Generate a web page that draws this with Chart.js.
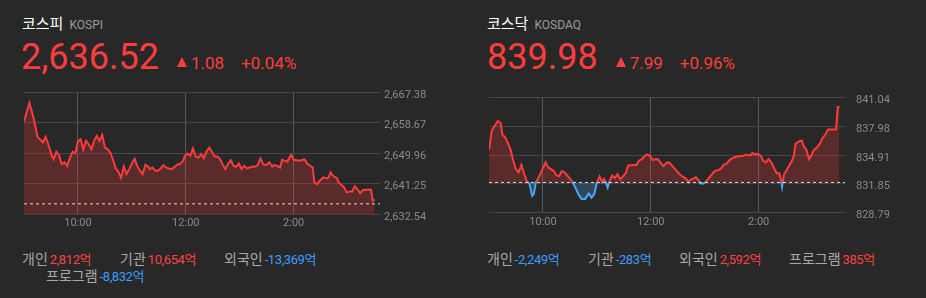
<!DOCTYPE html>
<html lang="ko">
<head>
<meta charset="utf-8">
<title>코스피 · 코스닥</title>
<script src="https://cdn.jsdelivr.net/npm/chart.js@4.4.1/dist/chart.umd.min.js"></script>
<style>
  html, body { margin: 0; padding: 0; }
  body {
    width: 926px; height: 298px; background: #282828;
    position: relative; overflow: hidden;
    font-family: Roboto, "Noto Sans CJK KR", sans-serif;
  }
  .title { position: absolute; top: 17px; display: flex; align-items: baseline; font-size: 15px; line-height: 15px; color: #fff; }
  .title small { font-size: 12px; color: #9a9a9a; margin-left: 6px; }
  .price { position: absolute; top: 39px; display: flex; align-items: baseline; color: #ff3d3d; }
  .price .now { font-size: 36px; line-height: 36px; }
  .price .chg { font-size: 17px; line-height: 17px; margin-left: 18px; }
  .price .pct { font-size: 17px; line-height: 17px; margin-left: 17px; }
  .tri {
    display: inline-block; width: 0; height: 0;
    border-left: 5.5px solid transparent; border-right: 5.5px solid transparent;
    border-bottom: 10px solid #ff3d3d; margin-right: 4px; position: relative; top: -2px;
  }
  .chart-box { position: absolute; top: 80px; width: 463px; height: 150px; }
  .stat { position: absolute; font-size: 14px; line-height: 16px; white-space: nowrap; }
  .stat .lbl { color: #a8a8a8; }
  .stat .val { margin-left: 2px; font-size: 13px; letter-spacing: -0.4px; }
  .up { color: #ff4040; }
  .down { color: #3d9cff; }
</style>
</head>
<body>

<div class="title" style="left:22px"><span>코스피</span><small>KOSPI</small></div>
<div class="price" style="left:21px">
  <span class="now">2,636.52</span>
  <span class="chg"><i class="tri"></i>1.08</span>
  <span class="pct">+0.04%</span>
</div>
<div class="chart-box" style="left:0"><canvas id="kospiChart"></canvas></div>
<div class="stat" style="left:22px;top:251px"><span class="lbl">개인</span><span class="val up">2,812억</span></div>
<div class="stat" style="left:120px;top:251px"><span class="lbl">기관</span><span class="val up">10,654억</span></div>
<div class="stat" style="left:224px;top:251px"><span class="lbl">외국인</span><span class="val down">-13,369억</span></div>
<div class="stat" style="left:46px;top:268px"><span class="lbl">프로그램</span><span class="val down">-8,832억</span></div>

<div class="title" style="left:487px"><span>코스닥</span><small>KOSDAQ</small></div>
<div class="price" style="left:487px">
  <span class="now">839.98</span>
  <span class="chg"><i class="tri"></i>7.99</span>
  <span class="pct">+0.96%</span>
</div>
<div class="chart-box" style="left:463px"><canvas id="kosdaqChart"></canvas></div>
<div class="stat" style="left:487px;top:251px"><span class="lbl">개인</span><span class="val down">-2,249억</span></div>
<div class="stat" style="left:588px;top:251px"><span class="lbl">기관</span><span class="val down">-283억</span></div>
<div class="stat" style="left:679px;top:251px"><span class="lbl">외국인</span><span class="val up">2,592억</span></div>
<div class="stat" style="left:789px;top:251px"><span class="lbl">프로그램</span><span class="val up">385억</span></div>

<script>
// minutes since 9:00, index values
const kospiMinutes = [0, 6, 11, 15, 21, 24, 27, 31, 33, 36, 39, 42, 45, 48, 51, 54, 57, 60, 63, 66, 69, 72, 75, 78, 81, 84, 87, 90, 93, 96,
  100, 102, 105, 108, 111, 114, 117, 120, 123, 126, 129, 132, 135, 138, 140, 143, 146, 149, 152, 155, 158, 161, 164, 167, 170, 174, 177, 179,
  182, 185, 188, 191, 194, 197, 200, 203, 206, 209, 212, 215, 218, 221, 224, 227, 230, 233, 236, 239, 242, 245, 248, 251, 254, 257, 260, 263,
  266, 269, 273, 276, 278, 281, 285, 287, 290, 293, 297, 300, 303, 307, 312, 315, 318, 321, 323, 326, 329, 333, 337, 339, 341, 344, 348, 350,
  353, 356, 359, 363, 365, 368, 372, 374, 377, 381, 386, 388, 390];
const kospiValues = [2658.93, 2664.24, 2659.59, 2654.56, 2652.95, 2654.56, 2652.47, 2649.16, 2648.21, 2650.29, 2649.34, 2646.78, 2647.35,
  2646.21, 2648.49, 2650.29, 2649.91, 2653.23, 2653.90, 2650.96, 2653.42, 2652.47, 2651.05, 2653.42, 2654.85, 2653.42, 2655.13, 2651.53,
  2651.05, 2650.10, 2647.26, 2645.55, 2644.60, 2642.80, 2646.12, 2643.94, 2645.36, 2646.97, 2648.30, 2646.21, 2644.89, 2643.94, 2646.59,
  2646.12, 2645.36, 2645.83, 2644.89, 2644.89, 2645.55, 2646.50, 2645.83, 2645.55, 2645.36, 2645.83, 2646.59, 2646.88, 2647.73, 2649.16,
  2649.82, 2649.16, 2651.24, 2648.97, 2648.59, 2649.63, 2648.49, 2650.39, 2651.53, 2650.29, 2648.97, 2648.97, 2648.21, 2646.59, 2645.36,
  2646.78, 2647.92, 2646.31, 2646.03, 2646.97, 2645.36, 2646.31, 2645.55, 2645.83, 2646.12, 2646.03, 2646.50, 2648.40, 2646.78, 2646.50,
  2647.26, 2646.03, 2646.50, 2646.31, 2645.83, 2648.02, 2647.73, 2647.54, 2649.44, 2648.02, 2647.92, 2647.73, 2648.21, 2646.97, 2646.31,
  2645.83, 2641.57, 2641.09, 2642.04, 2642.99, 2642.70, 2642.99, 2644.41, 2643.37, 2642.80, 2641.57, 2640.90, 2640.14, 2638.72, 2639.00,
  2639.00, 2640.43, 2639.19, 2638.43, 2639.38, 2639.48, 2639.48, 2636.35, 2636.52];
const kospiPrevClose = 2635.44;
const kospiTicks = [2632.54, 2641.25, 2649.96, 2658.67, 2667.38];

const kosdaqMinutes = [0, 3, 7, 10, 13, 15, 18, 21, 24, 27, 30, 33, 36, 39, 42, 45, 48, 50, 52, 55, 59, 63, 66, 69, 72, 75, 78, 81, 84, 87,
  90, 93, 96, 100, 103, 107, 109, 111, 114, 117, 120, 123, 126, 128, 130, 132, 134, 137, 140, 143, 146, 149, 152, 155, 161, 164, 167, 170,
  173, 176, 179, 182, 185, 188, 191, 194, 198, 201, 204, 208, 212, 215, 219, 222, 224, 227, 230, 233, 235, 238, 241, 244, 248, 251, 255, 258,
  261, 264, 268, 272, 275, 279, 282, 285, 288, 291, 293, 296, 298, 302, 305, 308, 311, 314, 317, 320, 323, 325, 326, 328, 331, 334, 337, 339,
  341, 345, 348, 350, 353, 356, 359, 361, 365, 368, 371, 374, 377, 382, 386, 388, 390];
const kosdaqValues = [835.47, 837.47, 838.13, 838.54, 838.30, 837.07, 836.80, 836.20, 835.47, 834.30, 833.40, 833.06, 833.86, 832.96,
  832.13, 831.86, 830.56, 830.80, 832.00, 832.46, 833.30, 834.13, 833.56, 833.40, 833.20, 832.73, 832.66, 833.20, 833.06, 832.73, 832.40,
  832.00, 831.46, 830.63, 830.23, 830.23, 830.53, 830.80, 830.36, 830.73, 831.96, 832.63, 832.00, 832.36, 832.00, 831.46, 832.13, 832.73,
  832.46, 832.86, 832.30, 832.63, 832.96, 833.80, 833.86, 833.86, 834.30, 834.47, 834.80, 834.97, 834.80, 834.40, 834.47, 834.47, 834.06,
  833.73, 834.13, 834.06, 833.73, 833.30, 832.86, 832.63, 832.40, 832.00, 832.26, 832.36, 832.53, 832.23, 831.90, 831.86, 832.03, 832.40,
  832.86, 833.20, 833.30, 833.46, 833.86, 833.96, 834.40, 834.63, 834.73, 834.80, 834.80, 834.93, 834.90, 834.90, 835.13, 834.97, 835.03,
  834.87, 834.30, 834.13, 834.47, 834.13, 833.53, 832.96, 832.96, 832.13, 831.53, 832.80, 833.30, 833.80, 834.30, 834.80, 836.13, 836.37,
  836.47, 835.87, 835.47, 834.47, 834.97, 835.40, 835.73, 836.13, 836.73, 837.07, 837.63, 837.63, 837.63, 840.04, 839.98];
const kosdaqPrevClose = 831.99;
const kosdaqTicks = [828.79, 831.85, 834.91, 837.98, 841.04];

const timeTicks = [60, 180, 300];
const timeTickLabels = ['10:00', '12:00', '2:00'];
const sessionEnd = 396;

const RED = '#ff3a3a';
const BLUE = '#4aa6f5';
const RED_FILL = 'rgba(255, 58, 58, 0.23)';
const BLUE_FILL = 'rgba(74, 166, 245, 0.26)';

// line turns blue under the previous close
function splitColor(base) {
    return function (context) {
        const chart = context.chart;
        const area = chart.chartArea;
        if (!area) return RED;
        const yb = chart.scales.y.getPixelForValue(base);
        let stop = (yb - area.top) / (area.bottom - area.top);
        stop = Math.min(Math.max(stop, 0), 1);
        const g = chart.ctx.createLinearGradient(0, area.top, 0, area.bottom);
        g.addColorStop(0, RED);
        g.addColorStop(stop, RED);
        g.addColorStop(stop, BLUE);
        g.addColorStop(1, BLUE);
        return g;
    };
}

function makeChart(id, minutes, values, base, yTicks, opts) {
    const ctx = document.getElementById(id).getContext('2d');
    return new Chart(ctx, {
        type: 'line',
        data: {
            datasets: [
                {
                    data: minutes.map((m, i) => ({ x: m, y: values[i] })),
                    borderColor: splitColor(base),
                    borderWidth: 2,
                    pointRadius: 0,
                    tension: 0,
                    fill: opts.fill,
                    backgroundColor: RED_FILL,
                    order: 1,
                },
                {
                    data: [{ x: 0, y: base }, { x: sessionEnd, y: base }],
                    borderColor: '#dcdcdc',
                    borderWidth: 1,
                    borderDash: [3, 3],
                    pointRadius: 0,
                    fill: false,
                    order: 0,
                },
            ],
        },
        options: {
            animation: false,
            responsive: true,
            maintainAspectRatio: false,
            events: [],
            layout: {
                padding: { left: opts.left, top: 12, right: 0, bottom: 0 },
            },
            plugins: {
                legend: { display: false },
                tooltip: { enabled: false },
            },
            scales: {
                x: {
                    type: 'linear',
                    min: 0,
                    max: sessionEnd,
                    afterBuildTicks: (s) => { s.ticks = timeTicks.map(v => ({ value: v })); },
                    afterFit: (s) => { s.height = 16; },
                    grid: { color: '#585858', drawTicks: false },
                    border: { display: false },
                    ticks: {
                        autoSkip: false,
                        maxRotation: 0,
                        padding: 3,
                        color: '#8a8a8a',
                        font: { size: 11, family: 'Roboto' },
                        callback: (v) => timeTickLabels[timeTicks.indexOf(v)] || '',
                    },
                },
                y: {
                    position: 'right',
                    min: yTicks[0],
                    max: yTicks[yTicks.length - 1],
                    afterBuildTicks: (s) => { s.ticks = yTicks.map(v => ({ value: v })); },
                    afterFit: (s) => { s.width = 463 - opts.left - 356; },
                    grid: { color: '#464646', drawTicks: false },
                    border: { display: false },
                    ticks: {
                        padding: opts.labelPad,
                        labelOffset: 3,
                        color: '#8a8a8a',
                        font: { size: 11, family: 'Roboto' },
                        callback: (v) => v.toLocaleString('en-US', { minimumFractionDigits: 2, maximumFractionDigits: 2 }),
                    },
                },
            },
        },
    });
}

makeChart('kospiChart', kospiMinutes, kospiValues, kospiPrevClose, kospiTicks,
    { left: 24, labelPad: 4, fill: 'start' });
makeChart('kosdaqChart', kosdaqMinutes, kosdaqValues, kosdaqPrevClose, kosdaqTicks,
    { left: 26, labelPad: 11, fill: { target: { value: kosdaqPrevClose }, above: RED_FILL, below: BLUE_FILL } });
</script>
</body>
</html>
